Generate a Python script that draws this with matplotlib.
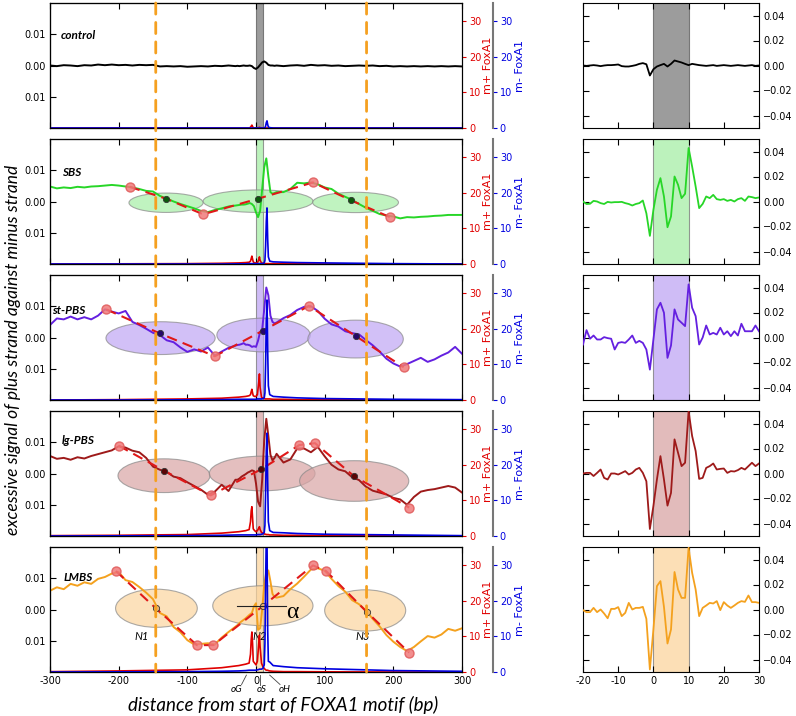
import numpy as np
import matplotlib
matplotlib.use('Agg')
from matplotlib import pyplot as plt
from matplotlib.patches import Ellipse, ConnectionPatch

# ---------------- data ----------------
names = ['control', 'SBS', 'st-PBS', 'lg-PBS', 'LMBS']

# sampling positions of the smoothed profiles (bp)
main_pos = ([-300, -290, -280, -270, -260, -250, -240, -230, -220, -210, -200, -190, -180, -170,
             -160, -150, -140, -130, -120, -110, -100, -90, -80, -70, -60, -50, -40]
            + [-30, -27, -24, -21, -18, -15, -12, -9, -6, -3, 0, 3, 6, 9, 12, 15, 18, 21, 24, 27, 30]
            + [40, 50, 60, 70, 80, 90, 100, 110, 120, 130, 140, 150, 160, 170, 180, 190, 200,
               210, 220, 230, 240, 250, 260, 270, 280, 290, 300])

control_main = [0.0000, -0.0002, 0.0001, 0.0000, -0.0002, 0.0001, 0.0000, 0.0003, 0.0001, 0.0003,
                0.0001, 0.0002, 0.0000, 0.0002, 0.0001, 0.0002, -0.0003, -0.0002, -0.0003, -0.0002,
                -0.0004, -0.0003, -0.0002, -0.0003, -0.0001, -0.0002, 0.0000,
                -0.0002, -0.0001, -0.0002, -0.0001, 0.0000, -0.0001, -0.0001, 0.0000, -0.0002, -0.0008,
                -0.0011, -0.0006, 0.0002, 0.0010, 0.0013, 0.0009, 0.0002, 0.0000, 0.0000, -0.0001, 0.0000,
                -0.0002, 0.0000, 0.0001, -0.0001, 0.0002, 0.0000, 0.0001, -0.0001, 0.0000, -0.0002,
                -0.0001, 0.0000, -0.0001, 0.0000, -0.0002, -0.0001, -0.0003, -0.0002, -0.0003, -0.0002,
                -0.0003, -0.0002, -0.0003, -0.0002, -0.0003, -0.0002, -0.0003]
sbs_main = [0.0048, 0.0042, 0.0045, 0.0043, 0.0047, 0.0045, 0.0048, 0.0049, 0.0051, 0.0053,
            0.0051, 0.0048, 0.0045, 0.0040, 0.0034, 0.0032, 0.0018, 0.0009, 0.0000, -0.0008,
            -0.0015, -0.0022, -0.0030, -0.0034, -0.0027, -0.0022, -0.0016,
            -0.0013, -0.0012, -0.0011, -0.0010, -0.0010, -0.0009, -0.0007, -0.0005, -0.0008, -0.0015,
            -0.0035, -0.0050, -0.0030, 0.0040, 0.0110, 0.0138, 0.0080, 0.0030, 0.0025, 0.0027, 0.0030,
            0.0030, 0.0040, 0.0060, 0.0058, 0.0061, 0.0055, 0.0045, 0.0040, 0.0025, 0.0015,
            0.0005, -0.0008, -0.0020, -0.0030, -0.0040, -0.0045, -0.0048, -0.0054, -0.0050, -0.0051,
            -0.0049, -0.0048, -0.0046, -0.0045, -0.0043, -0.0043, -0.0043]
stpbs_main = [0.0040, 0.0061, 0.0058, 0.0067, 0.0058, 0.0065, 0.0058, 0.0070, 0.0090, 0.0083,
              0.0077, 0.0085, 0.0050, 0.0040, 0.0028, 0.0015, 0.0008, -0.0009, -0.0015, -0.0032,
              -0.0046, -0.0038, -0.0045, -0.0032, -0.0058, -0.0045, -0.0033,
              -0.0026, -0.0024, -0.0023, -0.0021, -0.0018, -0.0023, -0.0023, -0.0025, -0.0030, -0.0028,
              -0.0030, -0.0010, 0.0018, 0.0025, 0.0090, 0.0160, 0.0135, 0.0070, 0.0050, 0.0045, 0.0048,
              0.0062, 0.0072, 0.0088, 0.0098, 0.0100, 0.0085, 0.0060, 0.0042, 0.0035, 0.0020,
              0.0014, 0.0010, -0.0008, -0.0025, -0.0045, -0.0068, -0.0083, -0.0093, -0.0085, -0.0075,
              -0.0065, -0.0078, -0.0070, -0.0058, -0.0048, -0.0030, -0.0052]
lgpbs_main = [0.0056, 0.0047, 0.0050, 0.0044, 0.0052, 0.0048, 0.0056, 0.0062, 0.0068, 0.0074,
              0.0087, 0.0083, 0.0073, 0.0068, 0.0050, 0.0022, 0.0012, 0.0005, -0.0010, -0.0015,
              -0.0028, -0.0040, -0.0052, -0.0068, -0.0058, -0.0036, -0.0056,
              -0.0020, -0.0020, -0.0016, -0.0010, -0.0006, -0.0002, 0.0003, 0.0006, 0.0010, 0.0008,
              -0.0032, -0.0090, -0.0105, -0.0020, 0.0106, 0.0175, 0.0120, 0.0060, 0.0042, 0.0050, 0.0063,
              0.0035, 0.0045, 0.0080, 0.0080, 0.0068, 0.0085, 0.0055, 0.0028, 0.0013, 0.0007,
              -0.0012, -0.0021, -0.0042, -0.0055, -0.0061, -0.0067, -0.0078, -0.0083, -0.0100, -0.0075,
              -0.0058, -0.0053, -0.0050, -0.0045, -0.0040, -0.0045, -0.0061]
lmbs_main = [0.0060, 0.0071, 0.0065, 0.0082, 0.0076, 0.0087, 0.0082, 0.0098, 0.0104, 0.0115,
             0.0120, 0.0094, 0.0088, 0.0072, 0.0054, 0.0033, -0.0011, -0.0022, -0.0056, -0.0073,
             -0.0098, -0.0112, -0.0110, -0.0108, -0.0112, -0.0090, -0.0072,
             -0.0055, -0.0050, -0.0043, -0.0038, -0.0033, -0.0028, -0.0022, -0.0016, -0.0011, 0.0010,
             0.0020, -0.0065, -0.0060, 0.0000, 0.0080, 0.0120, 0.0125, 0.0090, 0.0050, 0.0040, 0.0038,
             0.0043, 0.0065, 0.0083, 0.0105, 0.0128, 0.0132, 0.0124, 0.0098, 0.0075, 0.0057,
             0.0030, 0.0017, -0.0003, -0.0030, -0.0054, -0.0082, -0.0103, -0.0120, -0.0133, -0.0120,
             -0.0102, -0.0085, -0.0090, -0.0080, -0.0062, -0.0068, -0.0060]

# FoxA1 motif cut counts (right axes, m+ red / m- blue)
fox_pos = [-300, -200, -100, -50, -25, -15, -10, -8, -7, -6, -5, -4, -2, 0, 2, 4, 5, 6, 8, 10,
           12, 13, 14, 15, 16, 17, 18, 20, 25, 40, 60, 100, 200, 300]
control_plus = [0, 0, 0, 0, 0, 0, 0, 0.2, 0.5, 0.8, 0.4, 0.1, 0, 0, 0, 0.1, 0.2, 0.1, 0, 0,
                0, 0, 0, 0, 0, 0, 0, 0, 0, 0, 0, 0, 0, 0]
sbs_plus = [0, 0.05, 0.1, 0.2, 0.3, 0.4, 0.5, 0.8, 1.5, 2.2, 1.4, 0.6, 0.3, 0.3, 0.3, 1.2, 2.0, 1.0, 0.3, 0.2,
            0.15, 0.1, 0.1, 0.1, 0.1, 0.1, 0.1, 0.1, 0.1, 0.05, 0.05, 0, 0, 0]
stpbs_plus = [0, 0.1, 0.3, 0.5, 0.8, 1.0, 1.2, 1.5, 2.3, 3.0, 2.0, 1.2, 1.0, 1.0, 1.5, 5.0, 7.3, 3.5, 0.8, 0.5,
              0.4, 0.3, 0.3, 0.3, 0.3, 0.3, 0.3, 0.3, 0.2, 0.2, 0.1, 0.1, 0, 0]
lgpbs_plus = [0.1, 0.2, 0.4, 0.8, 1.2, 1.5, 1.8, 4.0, 7.0, 8.2, 5.0, 2.0, 1.5, 1.2, 1.5, 2.2, 2.6, 1.8, 1.0, 0.8,
              0.6, 0.5, 0.5, 0.4, 0.4, 0.4, 0.4, 0.3, 0.3, 0.2, 0.2, 0.1, 0.05, 0]
lmbs_plus = [0.1, 0.3, 0.6, 1.2, 1.8, 2.2, 2.5, 5.0, 9.0, 11.2, 8.0, 3.0, 2.5, 2.0, 3.0, 8.0, 10.3, 7.0, 2.5, 1.5,
             1.0, 0.8, 0.6, 0.5, 0.5, 0.5, 0.4, 0.3, 0.2, 0.1, 0.1, 0.05, 0, 0]
control_minus = [0, 0, 0, 0, 0, 0, 0, 0, 0, 0, 0, 0, 0, 0, 0, 0, 0, 0, 0, 0,
                 0, 0.1, 0.5, 1.5, 2.0, 1.0, 0.3, 0.1, 0, 0, 0, 0, 0, 0]
sbs_minus = [0, 0, 0, 0, 0.05, 0.05, 0.1, 0.1, 0.1, 0.1, 0.1, 0.1, 0.1, 0.1, 0.1, 0.1, 0.1, 0.1, 0.1, 0.15,
             0.3, 1.0, 5.0, 12.0, 15.7, 7.0, 2.0, 0.8, 0.6, 0.5, 0.4, 0.3, 0.1, 0]
stpbs_minus = [0, 0, 0.05, 0.1, 0.2, 0.2, 0.2, 0.2, 0.2, 0.2, 0.2, 0.2, 0.2, 0.2, 0.3, 0.3, 0.3, 0.3, 0.3, 0.4,
               0.6, 2.0, 10.0, 22.0, 28.0, 14.0, 4.0, 1.5, 1.0, 0.8, 0.6, 0.4, 0.2, 0.1]
lgpbs_minus = [0, 0.05, 0.1, 0.2, 0.3, 0.3, 0.3, 0.3, 0.3, 0.3, 0.3, 0.3, 0.3, 0.3, 0.4, 0.4, 0.4, 0.4, 0.5, 0.6,
               1.0, 3.0, 12.0, 24.0, 28.8, 15.0, 4.0, 1.5, 1.0, 0.9, 0.7, 0.5, 0.3, 0.1]
lmbs_minus = [0, 0.05, 0.1, 0.2, 0.3, 0.4, 0.5, 0.5, 0.5, 0.5, 0.5, 0.5, 0.5, 0.5, 0.6, 0.7, 0.8, 0.8, 0.8, 1.0,
              2.0, 8.0, 25.0, 38.0, 38.0, 12.0, 3.0, 2.8, 1.8, 1.5, 1.2, 0.9, 0.4, 0.2]

# unsmoothed signal around the motif, one value per bp from -20 to 30
zoom_pos = list(range(-20, 31))
control_zoom = [0.0000, -0.0003, 0.0000, 0.0003, 0.0000, -0.0005, 0.0000, 0.0003, 0.0003, 0.0005,
                0.0008, -0.0005, -0.0008, -0.0008, -0.0003, 0.0003, 0.0013, 0.0019, 0.0010, -0.0080,
                -0.0030, -0.0008, 0.0003, 0.0013, -0.0008, 0.0013, 0.0040, 0.0032, 0.0024, 0.0013,
                0.0003, 0.0013, 0.0008, 0.0003, 0.0000, -0.0003, 0.0000, 0.0003, -0.0003, 0.0000,
                0.0003, 0.0000, -0.0003, 0.0000, 0.0003, 0.0000, -0.0003, 0.0000, 0.0003, -0.0003, 0.0000]
sbs_zoom = [0.0000, -0.0020, -0.0018, 0.0005, 0.0000, -0.0013, -0.0020, -0.0003, -0.0008, -0.0005,
            -0.0005, -0.0003, -0.0013, -0.0020, -0.0032, -0.0020, -0.0013, 0.0008, -0.0094, -0.0275,
            -0.0067, 0.0094, 0.0187, 0.0040, -0.0206, -0.0120, 0.0200, 0.0134, 0.0027, 0.0062,
            0.0428, 0.0280, 0.0120, -0.0053, -0.0019, 0.0040, 0.0027, 0.0053, 0.0019, 0.0013,
            0.0019, 0.0005, 0.0013, 0.0000, 0.0019, 0.0027, 0.0005, 0.0040, 0.0035, 0.0027, 0.0032]
stpbs_zoom = [-0.0056, 0.0059, -0.0010, 0.0016, -0.0016, -0.0016, 0.0003, -0.0005, -0.0010, -0.0096,
              -0.0043, -0.0037, -0.0043, -0.0016, 0.0016, -0.0043, -0.0027, -0.0043, -0.0096, -0.0257,
              -0.0016, 0.0225, 0.0278, 0.0198, -0.0163, -0.0064, 0.0225, 0.0144, 0.0118, 0.0091,
              0.0425, 0.0238, 0.0171, -0.0056, 0.0000, 0.0096, 0.0024, 0.0037, 0.0024, 0.0078,
              0.0024, 0.0050, 0.0011, 0.0050, 0.0016, 0.0110, 0.0050, 0.0050, 0.0050, 0.0096, 0.0050]
lgpbs_zoom = [0.0000, 0.0005, 0.0005, -0.0020, 0.0005, 0.0032, -0.0035, -0.0048, 0.0000, 0.0000,
              -0.0008, 0.0005, 0.0019, -0.0008, 0.0005, 0.0032, 0.0045, 0.0005, -0.0062, -0.0444,
              -0.0260, -0.0048, 0.0139, -0.0048, -0.0257, -0.0155, 0.0273, 0.0166, 0.0059, 0.0086,
              0.0500, 0.0300, 0.0180, -0.0043, -0.0035, 0.0045, 0.0059, 0.0080, 0.0032, 0.0037,
              0.0040, 0.0005, 0.0019, 0.0016, 0.0027, 0.0045, 0.0032, 0.0059, 0.0086, 0.0059, 0.0080]
lmbs_zoom = [-0.0005, -0.0021, -0.0021, 0.0013, -0.0021, 0.0000, -0.0032, -0.0070, 0.0005, 0.0005,
             0.0019, -0.0053, -0.0027, 0.0053, 0.0000, 0.0013, 0.0013, 0.0021, -0.0075, -0.0480,
             -0.0160, 0.0187, 0.0227, 0.0021, -0.0272, -0.0160, 0.0300, 0.0160, 0.0093, 0.0093,
             0.0495, 0.0294, 0.0160, -0.0053, 0.0013, 0.0032, 0.0053, 0.0048, 0.0067, -0.0005,
             0.0059, 0.0032, 0.0013, 0.0032, 0.0053, 0.0067, 0.0061, 0.0112, 0.0059, 0.0059, 0.0053]

# nucleosome fits: turning points (red) and dyad centres (dark)
sbs_turn_x = [-184, -77, 83, 195]
sbs_turn_y = [0.0047, -0.0041, 0.0061, -0.0050]
sbs_dyad_x = [-131, 3, 138]
sbs_dyad_y = [0.0009, 0.0009, 0.0004]
stpbs_turn_x = [-218, -60, 77, 215]
stpbs_turn_y = [0.0090, -0.0060, 0.0101, -0.0095]
stpbs_dyad_x = [-140, 10, 145]
stpbs_dyad_y = [0.0013, 0.0022, 0.0005]
lgpbs_turn_x = [-200, -66, 63, 86, 223]
lgpbs_turn_y = [0.0089, -0.0070, 0.0091, 0.0097, -0.0109]
lgpbs_dyad_x = [-134, 8, 143]
lgpbs_dyad_y = [0.0009, 0.0014, -0.0009]
lmbs_turn_x = [-204, -86, -62, 83, 102, 223]
lmbs_turn_y = [0.0123, -0.0114, -0.0114, 0.0141, 0.0123, -0.0138]
lmbs_dyad_x = [-146, 10, 161]
lmbs_dyad_y = [0.0004, 0.0011, -0.0007]

# nucleosome ellipses: centre x, width (bp), centre y, height
sbs_ell = [(-131, 108, -0.0004, 0.0062), (3, 160, 0.0001, 0.0072), (145, 125, -0.0003, 0.0065)]
stpbs_ell = [(-139, 159, -0.0002, 0.0105), (11, 136, 0.0008, 0.0108), (145, 139, -0.0005, 0.0121)]
lgpbs_ell = [(-134, 134, -0.0007, 0.0108), (9, 154, 0.0000, 0.0111), (143, 159, -0.0024, 0.0130)]
lmbs_ell = [(-145, 119, 0.0004, 0.0122), (10, 146, 0.0012, 0.0128), (159, 118, -0.0003, 0.0132)]

nuc_lines = [-146, 161]   # orange dashed guides (LMBS dyads)

# ---------------- styles ----------------
line_colors = ['black', '#27d627', '#6420e0', '#9e1a1a', '#f4a11e']
band_colors = ['#9c9c9c', '#a6eea6', '#c0a6f4', '#d9a5a5', '#fbd59e']
dot_colors = ['black', '#0c5a0c', '#26086a', '#5a0505', '#e8b070']
label_pos = [(-285, 0.0097), (-283, 0.0094), (-297, 0.0088), (-283, 0.0105), (-280, 0.0103)]

main_vals = [control_main, sbs_main, stpbs_main, lgpbs_main, lmbs_main]
plus_vals = [control_plus, sbs_plus, stpbs_plus, lgpbs_plus, lmbs_plus]
minus_vals = [control_minus, sbs_minus, stpbs_minus, lgpbs_minus, lmbs_minus]
zoom_vals = [control_zoom, sbs_zoom, stpbs_zoom, lgpbs_zoom, lmbs_zoom]
turns = [None, (sbs_turn_x, sbs_turn_y), (stpbs_turn_x, stpbs_turn_y),
         (lgpbs_turn_x, lgpbs_turn_y), (lmbs_turn_x, lmbs_turn_y)]
dyads = [None, (sbs_dyad_x, sbs_dyad_y), (stpbs_dyad_x, stpbs_dyad_y),
         (lgpbs_dyad_x, lgpbs_dyad_y), (lmbs_dyad_x, lmbs_dyad_y)]
ellipses = [None, sbs_ell, stpbs_ell, lgpbs_ell, lmbs_ell]

W, H = 796, 716
fig = plt.figure(figsize=(W / 100, H / 100), dpi=100)

tops = [3, 139, 275, 411, 547]
ph = 125
left_axes = []

for i in range(5):
    bot = 1 - (tops[i] + ph) / H
    ax = fig.add_axes([50 / W, bot, 412 / W, ph / H])
    left_axes.append(ax)
    ax.axvspan(0, 10, facecolor=band_colors[i], edgecolor='#777777', lw=0.8,
               alpha=1.0 if i == 0 else 0.75, zorder=1)
    ax.plot(main_pos, main_vals[i], color=line_colors[i], lw=1.4, zorder=3)

    if ellipses[i] is not None:
        for cx, w, cy, h in ellipses[i]:
            e = Ellipse((cx, cy), w, h, facecolor=band_colors[i], edgecolor='#888888',
                        lw=0.8, alpha=0.7, zorder=2)
            ax.add_patch(e)
        # zig-zag through turning points and dyads
        zx = turns[i][0] + dyads[i][0]
        zy = turns[i][1] + dyads[i][1]
        order = np.argsort(zx)
        ax.plot(np.array(zx)[order], np.array(zy)[order], color='#e01818', lw=1.5,
                dashes=(5, 3), zorder=4)
        ax.plot(turns[i][0], turns[i][1], 'o', ms=6.5, mfc='#f07a7a', mec='#e05a5a',
                alpha=0.85, zorder=5)
        ax.plot(dyads[i][0], dyads[i][1], 'o', ms=4.5, mfc=dot_colors[i],
                mec='#333333', mew=0.6, zorder=5)

    ax.text(label_pos[i][0], label_pos[i][1], names[i], fontsize=8.5, fontweight='bold',
            style='italic', family='Lato', va='center', ha='left', zorder=6)

    ax.set_xlim(-300, 300)
    ax.set_ylim(-0.02, 0.02)
    ax.set_yticks([-0.01, 0, 0.01])
    ax.set_yticklabels(['0.01', '0.00', '0.01'])
    ax.set_xticks([-300, -200, -100, 0, 100, 200, 300])
    if i == 4:
        ax.set_xticklabels(['-300', '-200', '-100', '0', '100', '200', '300'])
    else:
        ax.set_xticklabels([])
    ax.tick_params(direction='in', top=True, labelsize=7, length=4, pad=3)

    # m+ FoxA1 (red) axis
    ax_r = ax.twinx()
    ax_r.plot(fox_pos, plus_vals[i], color='#e00000', lw=1.2)
    ax_r.set_ylim(0, 35)
    ax_r.set_yticks([0, 10, 20, 30])
    ax_r.tick_params(axis='y', colors='#e00000', labelsize=7, length=3, pad=2)
    ax_r.set_ylabel('m+ FoxA1', color='#e00000', fontsize=8, labelpad=1)

    # m- FoxA1 (blue) axis, offset spine
    ax_b = ax.twinx()
    ax_b.plot(fox_pos, minus_vals[i], color='#0000e0', lw=1.2)
    ax_b.set_ylim(0, 35)
    ax_b.set_xlim(-300, 300)
    ax_b.spines['right'].set_position(('axes', 1.075))
    ax_b.spines['right'].set_color('#777777')
    ax_b.spines['right'].set_linewidth(1.5)
    ax_b.set_yticks([0, 10, 20, 30])
    ax_b.tick_params(axis='y', colors='#0000e0', labelsize=7, length=3, pad=2)
    ax_b.set_ylabel('m- FoxA1', color='#0000e0', fontsize=8, labelpad=2)

    # zoomed panel on the right
    az = fig.add_axes([583 / W, bot, 176 / W, ph / H])
    az.axvspan(0, 10, facecolor=band_colors[i], edgecolor='#777777', lw=0.8,
               alpha=1.0 if i == 0 else 0.75, zorder=1)
    az.plot(zoom_pos, zoom_vals[i], color=line_colors[i], lw=1.3, zorder=3)
    az.set_xlim(-20, 30)
    az.set_ylim(-0.05, 0.05)
    az.set_yticks([-0.04, -0.02, 0, 0.02, 0.04])
    az.set_xticks([-20, -10, 0, 10, 20, 30])
    if i == 4:
        az.set_xticklabels(['-20', '-10', '0', '10', '20', '30'])
    else:
        az.set_xticklabels([])
    az.yaxis.tick_right()
    az.tick_params(direction='in', top=True, left=True, right=True, labelsize=7, length=4, pad=3)

ax5 = left_axes[4]
# nucleosome names and the angle marker in LMBS
for nm, xx in zip(['N1', 'N2', 'N3'], [-167, 6, 156]):
    ax5.text(xx, -0.0086, nm, fontsize=8, style='italic', family='Lato', ha='center', va='center', zorder=6)
ax5.plot([-27, 44], [0.0011, 0.0011], color='#222222', lw=0.8, zorder=5)
ax5.text(53, -0.0008, 'α', fontsize=17, family='Liberation Serif', ha='center', va='center', zorder=6)

# oG / oS / oH markers under the axis
for lab, (x0, x1, xt) in zip(['oG', 'oS', 'oH'], [(-14, -21, -28), (6, 6, 8), (20, 35, 42)]):
    ax5.plot([x0, x1], [-0.0210, -0.0240], color='#444444', lw=0.6, clip_on=False)
    ax5.text(xt, -0.0256, lab, fontsize=7, style='italic', family='Lato',
             ha='center', va='center')

# orange dashed guides spanning all left panels
for xv in nuc_lines:
    con = ConnectionPatch(xyA=(xv, 0.02), coordsA=left_axes[0].transData,
                          xyB=(xv, -0.02), coordsB=ax5.transData,
                          color='#f5a020', lw=2, linestyle=(0, (4, 3)), zorder=10)
    fig.add_artist(con)

fig.text(283 / W, 1 - 705 / H, 'distance from start of FOXA1 motif (bp)', fontsize=13.5,
         style='italic', family='Lato', ha='center', va='center')
fig.text(13 / W, 1 - 350 / H, 'excessive signal of plus strand against minus strand', fontsize=12.5,
         style='italic', family='Lato', ha='center', va='center', rotation=90)

fig.savefig('out.png', dpi=100)
